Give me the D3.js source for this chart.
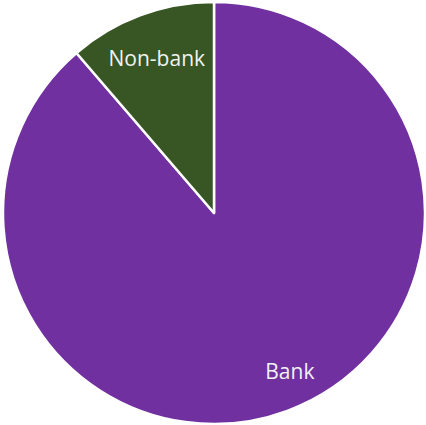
<!DOCTYPE html>
<html>
<head>
<meta charset="utf-8">
<script src="https://cdn.jsdelivr.net/npm/d3@7/dist/d3.min.js"></script>
<style>
  html, body { margin: 0; padding: 0; background: #fff; }
  svg { display: block; }
</style>
</head>
<body>
<svg id="chart" width="426" height="425"></svg>
<script>
// Share of lending by provider type (%)
const categories = ["Bank", "Non-bank"];
const shares = [88.7, 11.3];
const colors = ["#7030A0", "#375623"];

const width = 426, height = 425;
const cx = 214, cy = 213, radius = 211;

const svg = d3.select("#chart");
const g = svg.append("g").attr("transform", `translate(${cx},${cy})`);

const data = categories.map((name, i) => ({ name, value: shares[i], color: colors[i] }));

const pie = d3.pie().sort(null).value(d => d.value);
const arc = d3.arc().innerRadius(0).outerRadius(radius);

const arcs = pie(data);

g.selectAll("path.slice")
  .data(arcs)
  .join("path")
  .attr("class", "slice")
  .attr("d", arc)
  .attr("fill", d => d.data.color)
  .attr("stroke", "#ffffff")
  .attr("stroke-width", 2.5)
  .attr("stroke-linejoin", "round");

// Labels sit inside each slice along its mid angle
const labelRadius = [0.83, 0.78];
const labelShift = [[15, -6], [0, 0]];

g.selectAll("text.label")
  .data(arcs)
  .join("text")
  .attr("class", "label")
  .attr("transform", (d, i) => {
    const r = radius * labelRadius[i];
    const [x, y] = d3.arc().innerRadius(r).outerRadius(r).centroid(d);
    return `translate(${x + labelShift[i][0]},${y + labelShift[i][1]})`;
  })
  .attr("text-anchor", "middle")
  .attr("dy", "0.35em")
  .attr("fill", "#F2F2F2")
  .style("font-family", "'Segoe UI', 'Open Sans', 'Noto Sans', sans-serif")
  .style("font-size", "21px")
  .text(d => d.data.name);
</script>
</body>
</html>
